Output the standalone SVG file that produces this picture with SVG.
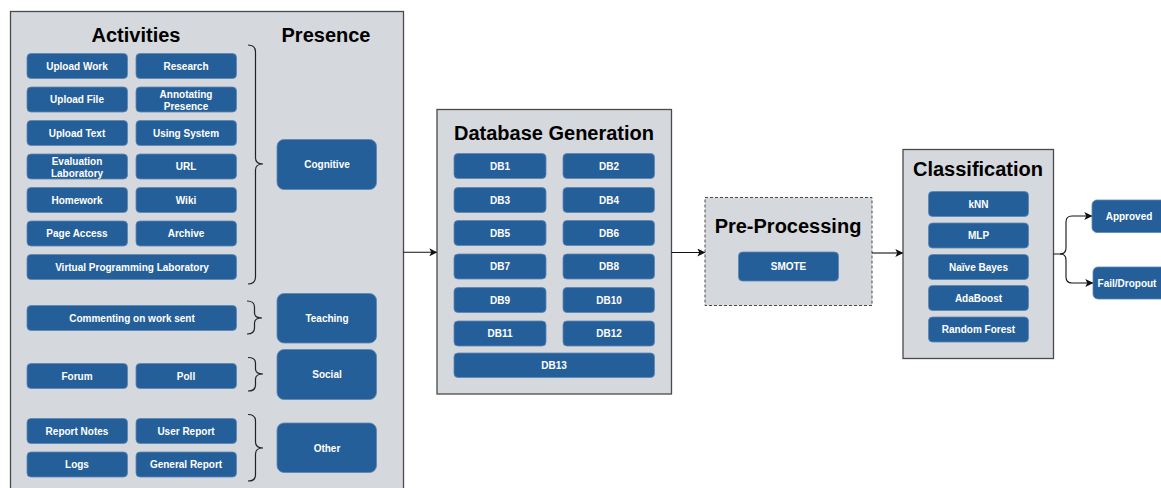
<svg xmlns="http://www.w3.org/2000/svg" width="1161" height="488" viewBox="0 0 1161 488">
<defs>
<style>
.panel{fill:#d5d8dc;stroke:#4a4a4a;stroke-width:1.3}
.dash{fill:#d5d8dc;stroke:#4a4a4a;stroke-width:1;stroke-dasharray:3 2}
.b{fill:#255f99;stroke:#5a86b5;stroke-width:0.8}
.t{font-family:"Liberation Sans",Arial,sans-serif;font-weight:bold;font-size:10px;fill:#ffffff;text-anchor:middle}
.h{font-family:"Liberation Sans",Arial,sans-serif;font-weight:bold;font-size:20px;fill:#000000;text-anchor:middle}
.br{fill:none;stroke:#222;stroke-width:1.2}
.c{fill:none;stroke:#111;stroke-width:1.1}
</style>
<marker id="ah" viewBox="0 0 10 10" refX="9" refY="5" markerWidth="8" markerHeight="8" markerUnits="userSpaceOnUse" orient="auto">
<path d="M0,0 L10,5 L0,10 L2.5,5 Z" fill="#111"/>
</marker>
</defs>

<g id="activities-panel">
<rect class="panel" x="10.5" y="11.5" width="393" height="490"/>
<text class="h" x="136" y="42">Activities</text>
<text class="h" x="326" y="42">Presence</text>
</g>

<g id="upload-work"><rect class="b" x="27" y="53.5" width="100.5" height="25" rx="4"/><text class="t" x="77" y="69.5">Upload Work</text></g>
<g id="research"><rect class="b" x="136" y="53.5" width="100.5" height="25" rx="4"/><text class="t" x="186" y="69.5">Research</text></g>
<g id="upload-file"><rect class="b" x="27" y="87" width="100.5" height="25" rx="4"/><text class="t" x="77" y="103">Upload File</text></g>
<g id="annotating-presence"><rect class="b" x="136" y="87" width="100.5" height="25" rx="4"/><text class="t" x="186" y="98">Annotating</text><text class="t" x="186" y="109.5">Presence</text></g>
<g id="upload-text"><rect class="b" x="27" y="120.5" width="100.5" height="25" rx="4"/><text class="t" x="77" y="136.5">Upload Text</text></g>
<g id="using-system"><rect class="b" x="136" y="120.5" width="100.5" height="25" rx="4"/><text class="t" x="186" y="136.5">Using System</text></g>
<g id="evaluation-laboratory"><rect class="b" x="27" y="154" width="100.5" height="25" rx="4"/><text class="t" x="77" y="165">Evaluation</text><text class="t" x="77" y="176.5">Laboratory</text></g>
<g id="url"><rect class="b" x="136" y="154" width="100.5" height="25" rx="4"/><text class="t" x="186" y="170">URL</text></g>
<g id="homework"><rect class="b" x="27" y="187.5" width="100.5" height="25" rx="4"/><text class="t" x="77" y="203.5">Homework</text></g>
<g id="wiki"><rect class="b" x="136" y="187.5" width="100.5" height="25" rx="4"/><text class="t" x="186" y="203.5">Wiki</text></g>
<g id="page-access"><rect class="b" x="27" y="221" width="100.5" height="25" rx="4"/><text class="t" x="77" y="237">Page Access</text></g>
<g id="archive"><rect class="b" x="136" y="221" width="100.5" height="25" rx="4"/><text class="t" x="186" y="237">Archive</text></g>
<g id="vpl"><rect class="b" x="27" y="254.5" width="209.5" height="25" rx="4"/><text class="t" x="132" y="270.5">Virtual Programming Laboratory</text></g>
<g id="commenting"><rect class="b" x="27" y="305.5" width="209.5" height="25" rx="4"/><text class="t" x="132" y="321.5">Commenting on work sent</text></g>
<g id="forum"><rect class="b" x="27" y="363.5" width="100.5" height="25" rx="4"/><text class="t" x="77" y="379.5">Forum</text></g>
<g id="poll"><rect class="b" x="136" y="363.5" width="100.5" height="25" rx="4"/><text class="t" x="186" y="379.5">Poll</text></g>
<g id="report-notes"><rect class="b" x="27" y="418.5" width="100.5" height="25" rx="4"/><text class="t" x="77" y="434.5">Report Notes</text></g>
<g id="user-report"><rect class="b" x="136" y="418.5" width="100.5" height="25" rx="4"/><text class="t" x="186" y="434.5">User Report</text></g>
<g id="logs"><rect class="b" x="27" y="452" width="100.5" height="25" rx="4"/><text class="t" x="77" y="468">Logs</text></g>
<g id="general-report"><rect class="b" x="136" y="452" width="100.5" height="25" rx="4"/><text class="t" x="186" y="468">General Report</text></g>

<g id="cognitive"><rect class="b" x="277" y="139.5" width="99.5" height="50" rx="7"/><text class="t" x="327" y="168">Cognitive</text></g>
<g id="teaching"><rect class="b" x="277" y="293.5" width="99.5" height="49.5" rx="7"/><text class="t" x="327" y="322">Teaching</text></g>
<g id="social"><rect class="b" x="277" y="349.5" width="99.5" height="50" rx="7"/><text class="t" x="327" y="378">Social</text></g>
<g id="other"><rect class="b" x="277" y="423" width="99.5" height="49.5" rx="7"/><text class="t" x="327" y="452">Other</text></g>

<g id="braces">
<path class="br" d="M248,45 Q255.5,45 255.5,52 L255.5,158 Q255.5,164 263,164 Q255.5,164 255.5,170 L255.5,277 Q255.5,284 248,284"/>
<path class="br" d="M247,301 Q254.5,301 254.5,307 L254.5,313 Q254.5,318 262,318 Q254.5,318 254.5,323 L254.5,328 Q254.5,334 247,334"/>
<path class="br" d="M248,357.5 Q255.5,357.5 255.5,363 L255.5,369 Q255.5,374 263,374 Q255.5,374 255.5,379 L255.5,385 Q255.5,391 248,391"/>
<path class="br" d="M248,414.5 Q255.5,414.5 255.5,421 L255.5,442 Q255.5,448 263,448 Q255.5,448 255.5,454 L255.5,475 Q255.5,481 248,481"/>
</g>

<g id="database-generation">
<rect class="panel" x="437" y="109.5" width="234.5" height="284.5"/>
<text class="h" x="554" y="140">Database Generation</text>
</g>
<g id="db1"><rect class="b" x="454" y="153.5" width="92" height="25" rx="4"/><text class="t" x="500" y="169.5">DB1</text></g>
<g id="db2"><rect class="b" x="563" y="153.5" width="91.5" height="25" rx="4"/><text class="t" x="609" y="169.5">DB2</text></g>
<g id="db3"><rect class="b" x="454" y="187.5" width="92" height="25" rx="4"/><text class="t" x="500" y="203.5">DB3</text></g>
<g id="db4"><rect class="b" x="563" y="187.5" width="91.5" height="25" rx="4"/><text class="t" x="609" y="203.5">DB4</text></g>
<g id="db5"><rect class="b" x="454" y="220.5" width="92" height="25" rx="4"/><text class="t" x="500" y="236.5">DB5</text></g>
<g id="db6"><rect class="b" x="563" y="220.5" width="91.5" height="25" rx="4"/><text class="t" x="609" y="236.5">DB6</text></g>
<g id="db7"><rect class="b" x="454" y="254" width="92" height="25" rx="4"/><text class="t" x="500" y="270">DB7</text></g>
<g id="db8"><rect class="b" x="563" y="254" width="91.5" height="25" rx="4"/><text class="t" x="609" y="270">DB8</text></g>
<g id="db9"><rect class="b" x="454" y="287.5" width="92" height="25" rx="4"/><text class="t" x="500" y="303.5">DB9</text></g>
<g id="db10"><rect class="b" x="563" y="287.5" width="91.5" height="25" rx="4"/><text class="t" x="609" y="303.5">DB10</text></g>
<g id="db11"><rect class="b" x="454" y="321" width="92" height="25" rx="4"/><text class="t" x="500" y="337">DB11</text></g>
<g id="db12"><rect class="b" x="563" y="321" width="91.5" height="25" rx="4"/><text class="t" x="609" y="337">DB12</text></g>
<g id="db13"><rect class="b" x="454" y="353" width="200.5" height="24.5" rx="4"/><text class="t" x="554" y="369">DB13</text></g>

<g id="pre-processing">
<rect class="dash" x="705" y="197.5" width="167" height="108"/>
<text class="h" x="788" y="233">Pre-Processing</text>
</g>
<g id="smote"><rect class="b" x="738.5" y="252" width="100" height="29" rx="4"/><text class="t" x="788.5" y="270">SMOTE</text></g>

<g id="classification">
<rect class="panel" x="903" y="149.5" width="150.5" height="209"/>
<text class="h" x="978" y="176">Classification</text>
</g>
<g id="knn"><rect class="b" x="928.5" y="191.5" width="100" height="25" rx="4"/><text class="t" x="978.5" y="207.5">kNN</text></g>
<g id="mlp"><rect class="b" x="928.5" y="223" width="100" height="25" rx="4"/><text class="t" x="978.5" y="239">MLP</text></g>
<g id="naive-bayes"><rect class="b" x="928.5" y="254.5" width="100" height="25" rx="4"/><text class="t" x="978.5" y="270.5">Naïve Bayes</text></g>
<g id="adaboost"><rect class="b" x="928.5" y="285.5" width="100" height="25" rx="4"/><text class="t" x="978.5" y="301.5">AdaBoost</text></g>
<g id="random-forest"><rect class="b" x="928.5" y="317" width="100" height="25" rx="4"/><text class="t" x="978.5" y="333">Random Forest</text></g>

<g id="approved"><rect class="b" x="1092" y="200" width="76" height="32.5" rx="5"/><text class="t" x="1129" y="220">Approved</text></g>
<g id="fail-dropout"><rect class="b" x="1093" y="267" width="76" height="32" rx="5"/><text class="t" x="1127" y="287">Fail/Dropout</text></g>

<g id="connectors">
<path class="c" d="M403.5,252.3 L436.5,252.3" marker-end="url(#ah)"/>
<path class="c" d="M671.5,252.5 L704.5,252.5" marker-end="url(#ah)"/>
<path class="c" d="M872,253 L902.5,253" marker-end="url(#ah)"/>
<path class="c" d="M1053.5,254 L1060,254 Q1066,254 1066,248 L1066,222 Q1066,216 1072,216 L1091.5,216" marker-end="url(#ah)"/>
<path class="c" d="M1060,254 Q1066,254 1066,260 L1066,277 Q1066,283 1072,283 L1092.5,283" marker-end="url(#ah)"/>
</g>
</svg>
